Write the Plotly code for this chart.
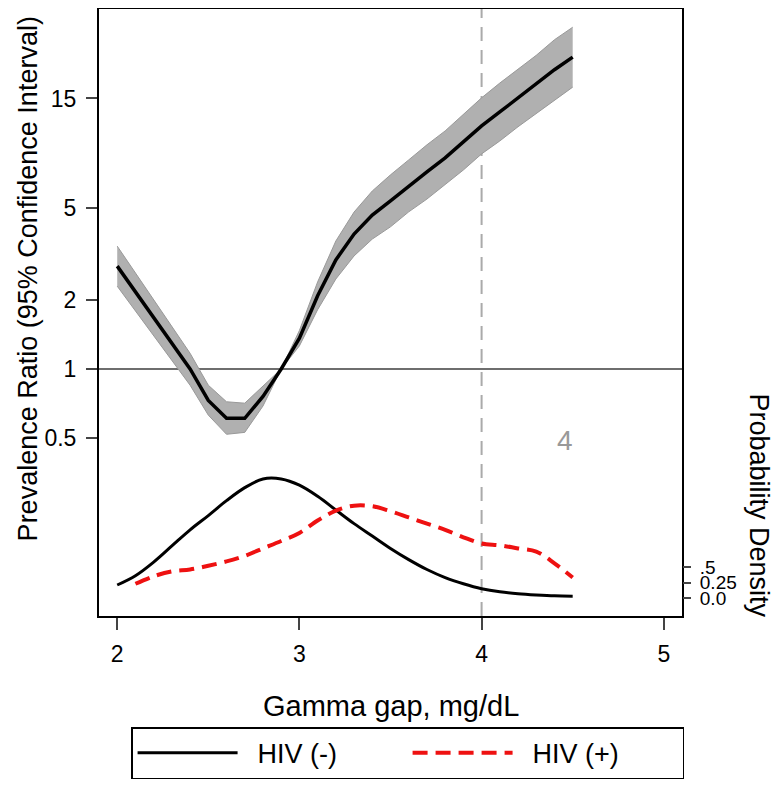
import math

import plotly.graph_objects as go

# gamma gap grid (mg/dL)
gap = [2.0, 2.1, 2.2, 2.3, 2.4, 2.5, 2.6, 2.7, 2.8, 2.9, 3.0, 3.1, 3.2,
       3.3, 3.4, 3.5, 3.6, 3.7, 3.8, 3.9, 4.0, 4.1, 4.2, 4.3, 4.4, 4.5]

# prevalence ratio and 95% CI
pr = [2.80, 2.16, 1.67, 1.30, 1.00, 0.73, 0.61, 0.61, 0.76, 1.00, 1.36, 2.08, 2.98,
      3.86, 4.67, 5.38, 6.25, 7.19, 8.27, 9.70, 11.4, 13.1, 15.1, 17.3, 20.0, 22.7]
pr_hi = [3.42, 2.61, 2.00, 1.54, 1.17, 0.85, 0.72, 0.71, 0.84, 1.00, 1.47, 2.39, 3.60,
         4.81, 5.94, 6.98, 8.11, 9.43, 10.84, 12.84, 15.09, 17.5, 20.2, 23.1, 27.0, 30.6]
pr_lo = [2.29, 1.79, 1.40, 1.10, 0.85, 0.63, 0.52, 0.53, 0.69, 1.00, 1.26, 1.81, 2.46,
         3.10, 3.67, 4.15, 4.82, 5.48, 6.31, 7.33, 8.61, 9.8, 11.3, 12.9, 14.8, 16.8]

# kernel densities
dens_neg = [0.21, 0.36, 0.58, 0.84, 1.10, 1.33, 1.57, 1.78, 1.92, 1.92, 1.82, 1.64, 1.42,
            1.20, 1.00, 0.80, 0.62, 0.46, 0.33, 0.23, 0.15, 0.10, 0.07, 0.05, 0.035, 0.03]
gap_pos = gap[1:]
dens_pos = [0.23, 0.35, 0.43, 0.46, 0.52, 0.59, 0.68, 0.80, 0.92, 1.05, 1.25, 1.41,
            1.49, 1.48, 1.40, 1.30, 1.20, 1.10, 0.98, 0.88, 0.85, 0.80, 0.75, 0.56, 0.33]

ref_gap = 4
label_x, label_pr = 4.46, 0.49

FONT = "Liberation Sans, Arial, sans-serif"

fig = go.Figure()
fig.add_trace(go.Scatter(x=gap, y=pr_hi, mode="lines", line=dict(color="#999999", width=1),
                         showlegend=False, hoverinfo="skip"))
fig.add_trace(go.Scatter(x=gap, y=pr_lo, mode="lines", line=dict(color="#999999", width=1),
                         fill="tonexty", fillcolor="#b0b0b0", showlegend=False, hoverinfo="skip"))
fig.add_trace(go.Scatter(x=gap, y=pr, mode="lines", line=dict(color="black", width=3.5),
                         showlegend=False))
fig.add_trace(go.Scatter(x=gap, y=dens_neg, yaxis="y2", mode="lines", name="\u00a0\u00a0HIV (-)",
                         line=dict(color="black", width=3, shape="spline")))
fig.add_trace(go.Scatter(x=gap_pos, y=dens_pos, yaxis="y2", mode="lines", name="\u00a0\u00a0HIV (+)",
                         line=dict(color="#ee1111", width=4, dash="15px,8px", shape="spline")))

fig.add_hline(y=1, line=dict(color="#6e6e6e", width=2), layer="below")
fig.add_vline(x=ref_gap, line=dict(color="#aaaaaa", width=2, dash="14px,9px"), layer="below")

fig.add_annotation(x=label_x, y=math.log10(label_pr), text="4", showarrow=False,
                   xanchor="center", yanchor="middle",
                   font=dict(size=28, color="#999999", family=FONT))
fig.add_annotation(x=-0.122, y=0.556, xref="paper", yref="paper", textangle=-90,
                   xanchor="center", yanchor="middle",
                   text="Prevalence Ratio (95% Confidence Interval)", showarrow=False,
                   font=dict(size=27, color="black", family=FONT))
fig.add_annotation(x=1.133, y=0.183, xref="paper", yref="paper", textangle=90,
                   xanchor="center", yanchor="middle",
                   text="Probability Density", showarrow=False,
                   font=dict(size=27, color="black", family=FONT))
fig.add_annotation(x=0.5, y=-0.148, xref="paper", yref="paper",
                   xanchor="center", yanchor="middle",
                   text="Gamma gap, mg/dL", showarrow=False,
                   font=dict(size=29, color="black", family=FONT))

fig.update_layout(
    width=779, height=786,
    margin=dict(l=91, r=105, t=1, b=178, autoexpand=False),
    plot_bgcolor="white", paper_bgcolor="white",
    font=dict(family=FONT, size=23, color="black"),
    xaxis=dict(range=[1.9, 5.1], tickvals=[2, 3, 4, 5], ticks="outside", ticklen=12,
               tickwidth=2, ticklabelstandoff=4, showgrid=False, zeroline=False,
               showline=True, linecolor="black", linewidth=2, mirror=True),
    yaxis=dict(type="log", range=[-1.074, 1.565], tickvals=[0.5, 1, 2, 5, 15],
               ticktext=["0.5", "1", "2", "5", "15"], ticks="outside", ticklen=11,
               tickwidth=2, ticklabelstandoff=5, showgrid=False, zeroline=False,
               showline=True, linecolor="black", linewidth=2, mirror=True),
    yaxis2=dict(overlaying="y", side="right", range=[-0.29, 9.5],
                tickvals=[0, 0.25, 0.5], ticktext=["0.0", "0.25", ".5"],
                tickfont=dict(size=19), ticks="outside", ticklen=8, tickwidth=2,
                ticklabelstandoff=5, showgrid=False, zeroline=False, showline=False),
    legend=dict(orientation="h", xref="container", yref="container",
                x=0.158, y=0.085, xanchor="left", yanchor="top", traceorder="normal",
                bordercolor="black", borderwidth=1.5, font=dict(size=27),
                itemwidth=100, entrywidth=160),
)

fig.write_html("out.html")
